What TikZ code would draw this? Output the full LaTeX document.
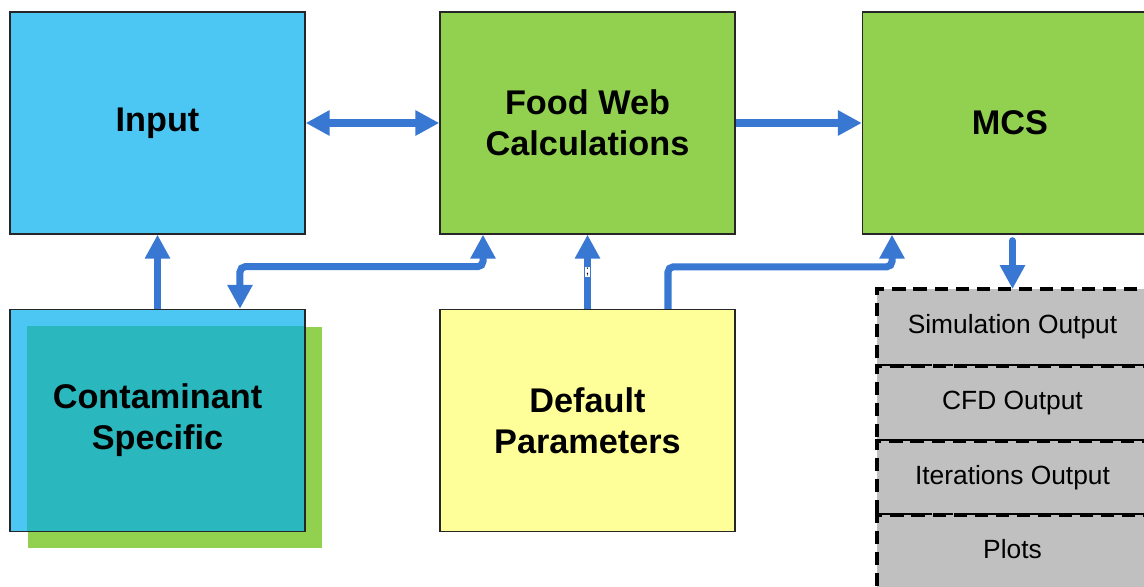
\documentclass[tikz,border=0pt]{standalone}
\usepackage{fontspec}
\setmainfont{Liberation Sans}
\usetikzlibrary{arrows.meta,positioning}

\definecolor{inblue}{RGB}{76,199,244}
\definecolor{fwgreen}{RGB}{146,208,80}
\definecolor{overlap}{RGB}{42,183,189}
\definecolor{defyellow}{RGB}{255,255,153}
\definecolor{outgray}{RGB}{192,192,192}
\definecolor{linkblue}{RGB}{56,119,210}

\tikzset{
  block/.style={draw=black!85, line width=0.8pt, minimum width=5.9cm, minimum height=4.44cm,
    inner sep=0pt, align=center, font=\bfseries\fontsize{19.5}{23.3}\selectfont},
  outbox/.style={draw, line width=1.9pt, dash pattern=on 7.5pt off 4.5pt, fill=outgray,
    minimum width=5.42cm, minimum height=1.5cm, inner sep=0pt, outer sep=0pt,
    text height=1.38ex, text depth=0pt, font=\fontsize{15}{18}\selectfont},
  link/.style={draw=linkblue, line width=4pt},
}

\begin{document}
\begin{tikzpicture}[x=0.02cm, y=-0.02cm, >={Triangle[length=0.48cm,width=0.48cm]}]
        \useasboundingbox (0,0) rectangle (1144,587);
        \clip (0,0) rectangle (1144,587);

        % top row
        \node[block, fill=inblue] (input) at (157.5,123) {Input};
        \node[block, fill=fwgreen] (food) at (587.5,123) {Food Web\\Calculations};
        \node[block, fill=fwgreen] (mcs) at (1010,123) {MCS};

        % bottom row
        \node[block, draw=none, fill=fwgreen] (shadow) at (175,437.5) {};
        \node[block, fill=inblue,
          path picture={\fill[overlap] (shadow.north west) rectangle (shadow.south east);}]
          (contam) at (157.5,420.5) {Contaminant\\Specific};
        \node[block, fill=defyellow] (default) at (587.5,420.5) {Default\\Parameters};

        % outputs
        \node[outbox, minimum height=1.54cm] (sim) at (1012.5,327.5) {Simulation Output};
        \node[outbox, below=0pt of sim] (cfd) {CFD Output};
        \node[outbox, below=0pt of cfd, minimum height=1.48cm] (iter) {Iterations Output};
        \node[outbox, below=0pt of iter] (plots) {Plots};

        % links
        \draw[link,<->] (input.east) -- (food.west);
        \draw[link,->] (food.east) -- (mcs.west);
        \draw[link,->] (contam.north) -- (input.south);
        \draw[link,<->,rounded corners=3pt] ([xshift=-2.09cm]food.south) -- ++(0,32)
          -| ([xshift=1.65cm]contam.north);
        \draw[link,->] (default.north) -- (food.south)
          node[midway, fill=white, inner sep=0.6pt, font=\fontsize{7}{7}\selectfont] (mark) {;};
        \draw[link,->,rounded corners=3pt] ([xshift=1.61cm]default.north) -- ++(0,-42)
          -| ([xshift=-2.36cm]mcs.south);
        \draw[link,->,line cap=round] ([yshift=-0.12cm]sim.north |- mcs.south) -- (sim.north);
\end{tikzpicture}
\end{document}
